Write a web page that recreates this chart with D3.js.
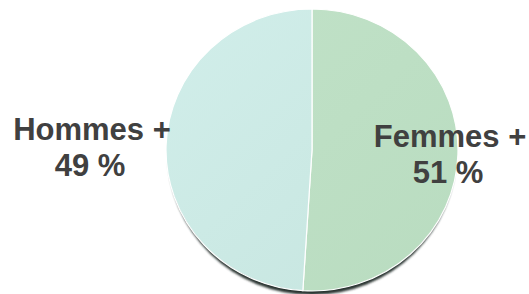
<!DOCTYPE html>
<html>
<head>
<meta charset="utf-8">
<script src="https://cdn.jsdelivr.net/npm/d3@7"></script>
<style>
  body { margin: 0; background: #fff; }
  svg { display: block; }
</style>
</head>
<body>
<script>
const categories = ["Femmes +", "Hommes +"];
const values = [51, 49];
const valueLabels = ["51 %", "49 %"];

const width = 529, height = 294;
const cx = 312, cy = 150, rx = 146, ry = 141;

const svg = d3.select("body").append("svg")
  .attr("width", width)
  .attr("height", height);

const defs = svg.append("defs");

defs.append("filter")
  .attr("id", "blur")
  .attr("x", "-10%").attr("y", "-10%")
  .attr("width", "120%").attr("height", "120%")
  .append("feGaussianBlur")
  .attr("stdDeviation", 0.9);

// slight diagonal shading on each slice
const gradStops = [
  ["gLeft", "#d1eeea", "#c6e5df"],
  ["gRight", "#c1e2c8", "#b9dcc0"]
];
gradStops.forEach(([id, c0, c1]) => {
  let g = defs.append("linearGradient")
    .attr("id", id)
    .attr("gradientUnits", "userSpaceOnUse")
    .attr("x1", -rx).attr("y1", -rx)
    .attr("x2", rx).attr("y2", rx);
  g.append("stop").attr("offset", "0%").attr("stop-color", c0);
  g.append("stop").attr("offset", "100%").attr("stop-color", c1);
});

const fills = ["url(#gRight)", "url(#gLeft)"];

// shadow under the disc
svg.append("ellipse")
  .attr("cx", cx)
  .attr("cy", cy + 4)
  .attr("rx", rx - 2)
  .attr("ry", ry)
  .attr("fill", "#2c3532")
  .attr("filter", "url(#blur)");

const pie = d3.pie().sort(null).value(d => d);
const arc = d3.arc().innerRadius(0).outerRadius(rx);

const g = svg.append("g")
  .attr("transform", `translate(${cx},${cy}) scale(1,${ry / rx})`);

g.selectAll("path")
  .data(pie(values))
  .join("path")
  .attr("d", arc)
  .attr("fill", (d, i) => fills[i])
  .attr("stroke", "#ffffff")
  .attr("stroke-width", 1.2)
  .attr("vector-effect", "non-scaling-stroke");

// labels
const labelPos = [
  { x: 450, y: 147 },
  { x: 92, y: 140 }
];

const labels = svg.append("g")
  .style("font-family", "'Liberation Sans', Arial, sans-serif")
  .style("font-weight", "bold")
  .style("font-size", "31px")
  .attr("fill", "#404040")
  .attr("text-anchor", "middle");

categories.forEach((c, i) => {
  let t = labels.append("text")
    .attr("x", labelPos[i].x)
    .attr("y", labelPos[i].y);
  t.append("tspan").attr("x", labelPos[i].x).text(c);
  t.append("tspan").attr("x", labelPos[i].x - 2).attr("dy", 36).text(valueLabels[i]);
});
</script>
</body>
</html>
